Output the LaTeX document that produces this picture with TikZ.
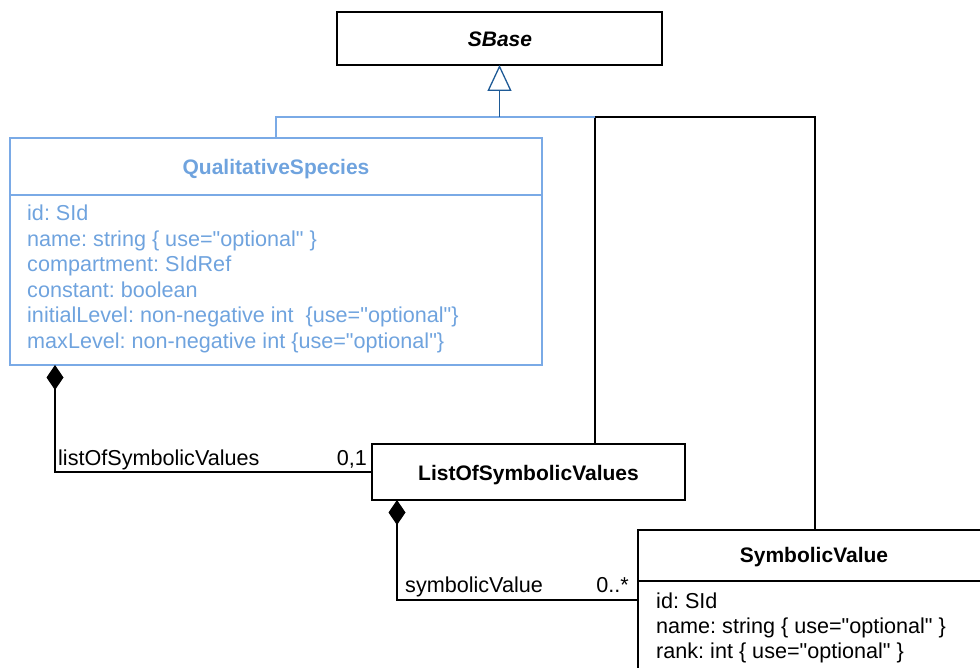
\documentclass[tikz,border=0pt]{standalone}
\usepackage{fontspec}
\setmainfont{Liberation Sans}
\usetikzlibrary{arrows.meta}
\definecolor{qtext}{RGB}{111,163,222}
\definecolor{qline}{RGB}{122,170,230}
\definecolor{darr}{RGB}{30,90,150}
\newcommand\sq{\XeTeXglyph\XeTeXcharglyph"22\relax}
\frenchspacing
\begin{document}
\begin{tikzpicture}[x=1pt,y=-1pt,
  every node/.style={font=\fontsize{21.6}{25}\selectfont},
  box/.style={draw, line width=1.3pt, anchor=north west, inner sep=0pt, outer sep=0pt},
  ttl/.style={anchor=base, inner sep=0pt, font=\fontsize{21}{25}\selectfont\bfseries},
  attr/.style={anchor=base west, inner sep=0pt},
  lbl/.style={inner sep=0pt},
  conn/.style={line width=1.3pt},
  comp/.style={conn, {Diamond[width=17pt,length=25pt]}-}
]
\useasboundingbox (0,0) rectangle (980,668);
\clip (0,0) rectangle (980,668);

% SBase
\node[box, minimum width=325pt, minimum height=53pt] (sbase) at (337,12) {};
\node[ttl, font=\fontsize{21}{25}\selectfont\bfseries\itshape] (sbaset) at (500,46.5) {SBase};

% QualitativeSpecies
\node[box, draw=qline, minimum width=532pt, minimum height=227pt] (qs) at (10,138) {};
\draw[qline, line width=1.3pt] (10,195) -- (542,195);
\node[ttl, text=qtext] (qst) at (276,174.5) {QualitativeSpecies};
\begin{scope}[every node/.append style={text=qtext}]
\node[attr] (qa1) at (27,221) {id: SId};
\node[attr] (qa2) at (27,246.5) {name: string \{ use=\sq optional\sq\ \}};
\node[attr] (qa3) at (27,272) {compartment: SIdRef};
\node[attr] (qa4) at (27,297.5) {constant: boolean};
\node[attr] (qa5) at (27,323) {initialLevel: non-negative int \ \{use=\sq optional\sq\}};
\node[attr] (qa6) at (27,348.5) {maxLevel: non-negative int \{use=\sq optional\sq\}};
\end{scope}

% ListOfSymbolicValues
\node[box, minimum width=313pt, minimum height=56pt] (lsv) at (372,444) {};
\node[ttl] (lsvt) at (528.5,480.5) {ListOfSymbolicValues};

% SymbolicValue
\node[box, minimum width=352pt, minimum height=140pt] (sv) at (638,530) {};
\draw[line width=1.3pt] (638,581) -- (990,581);
\node[ttl] (svt) at (814,562.5) {SymbolicValue};
\node[attr] (sa1) at (656,608.5) {id: SId};
\node[attr] (sa2) at (656,633.5) {name: string \{ use=\sq optional\sq\ \}};
\node[attr] (sa3) at (656,658.5) {rank: int \{ use=\sq optional\sq\ \}};

% inheritance
\coordinate (j) at (595,117);
\coordinate (k) at (815,117);
\draw[conn] (lsv.north -| j) -- (j) -- (k) -- (sv.north -| k);
\draw[conn, qline] (qs.north) |- (j);
\draw[conn, darr, -{Triangle[open, width=24pt, length=26pt, line width=1.3pt]}] (sbase.south |- j) -- (sbase.south);

% compositions
\draw[comp] (qs.south -| 55,0) |- (lsv.west);
\node[lbl, anchor=base west] (l1) at (58,465.5) {listOfSymbolicValues};
\node[lbl, anchor=base east] (m1) at (367,465.5) {0,1};

\draw[comp] (lsv.south -| 397,0) |- (sv.west);
\node[lbl, anchor=base west] (l2) at (405,592.5) {symbolicValue};
\node[lbl, anchor=base east] (m2) at (629,592.5) {0..*};
\end{tikzpicture}
\end{document}
